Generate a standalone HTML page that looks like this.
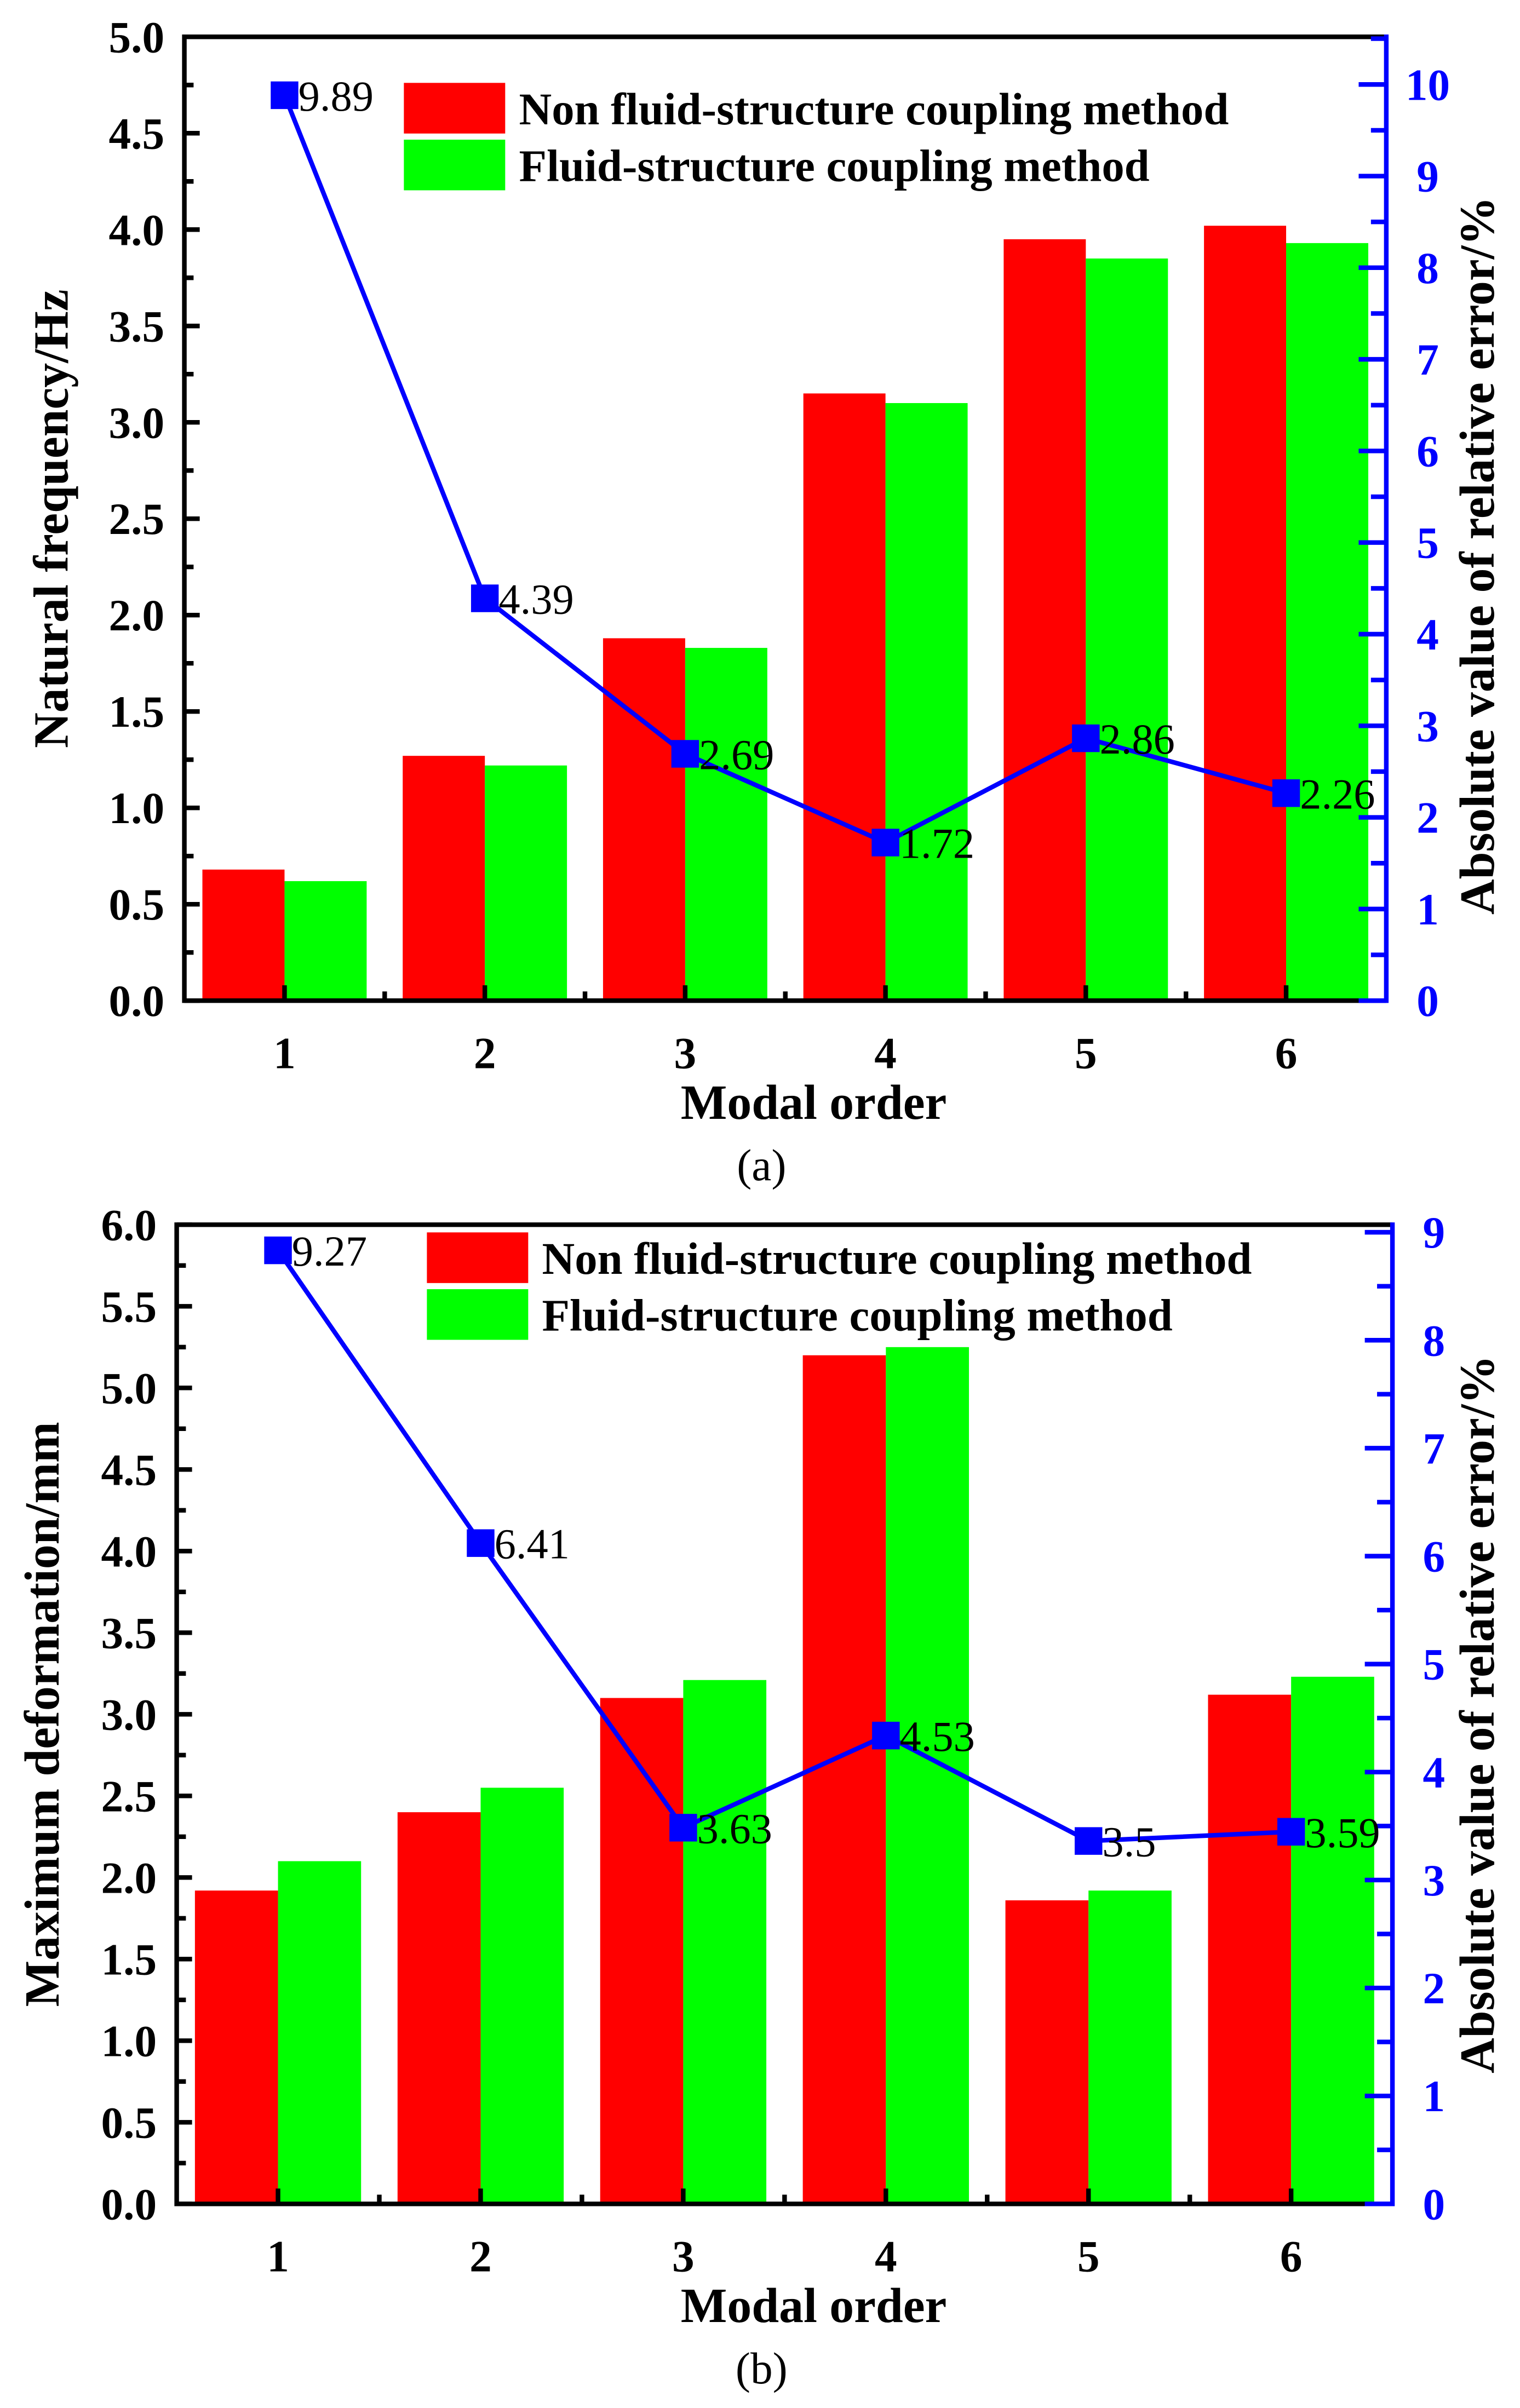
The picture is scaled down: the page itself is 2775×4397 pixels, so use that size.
<!DOCTYPE html>
<html><head><meta charset="utf-8">
<style>
html,body{margin:0;padding:0;background:#fff;}
svg{display:block;}
text{font-family:"Liberation Serif","DejaVu Serif",serif;}
</style></head>
<body>
<svg id="fig" width="2775" height="4397" viewBox="0 0 990 1569" xmlns="http://www.w3.org/2000/svg"></svg>
<script>
const categories = ["1","2","3","4","5","6"];
const aNonFsi = [0.68, 1.27, 1.88, 3.15, 3.95, 4.02];
const aFsi = [0.62, 1.22, 1.83, 3.10, 3.85, 3.93];
const aErr = [9.89, 4.39, 2.69, 1.72, 2.86, 2.26];
const aErrLabels = ["9.89","4.39","2.69","1.72","2.86","2.26"];
const aLeftTicks = ["0.0","0.5","1.0","1.5","2.0","2.5","3.0","3.5","4.0","4.5","5.0"];
const aRightTicks = ["0","1","2","3","4","5","6","7","8","9","10"];
const bNonFsi = [1.92, 2.40, 3.10, 5.20, 1.86, 3.12];
const bFsi = [2.10, 2.55, 3.21, 5.25, 1.92, 3.23];
const bErr = [9.27, 6.41, 3.63, 4.53, 3.5, 3.59];
const bErrLabels = ["9.27","6.41","3.63","4.53","3.5","3.59"];
const bLeftTicks = ["0.0","0.5","1.0","1.5","2.0","2.5","3.0","3.5","4.0","4.5","5.0","5.5","6.0"];
const bRightTicks = ["0","1","2","3","4","5","6","7","8","9"];

const NS="http://www.w3.org/2000/svg";
const svg=document.getElementById('fig');
function mk(tag,attrs,parent,txt){const e=document.createElementNS(NS,tag);for(const k in attrs)e.setAttribute(k,attrs[k]);if(txt!==undefined)e.textContent=txt;(parent||svg).appendChild(e);return e;}

function chart(o){
  const g=mk('g',{});
  
  
  const L=o.left,R=o.right,T=o.top,B=o.bottom;
  const xs=v=>L+(v-0.5)/6*(R-L);
  const yl=v=>B-(v/o.lmax)*(B-T);
  const yr=v=>B-(v/o.rmax)*(B-T);
  const yline=v=>o.lineZero-v*o.lineUnit;
  const bw=(R-L)/6*0.41;
  for(let i=0;i<categories.length;i++){
    const cx=xs(i+1);
    const r=mk('rect',{x:cx-bw,y:yl(o.s1[i]),width:bw,height:B-yl(o.s1[i]),fill:'#ff0000'},g);
    
    
    const r2=mk('rect',{x:cx,y:yl(o.s2[i]),width:bw,height:B-yl(o.s2[i]),fill:'#00ff00'},g);
    
    
  }
  mk('line',{x1:L,y1:T,x2:R,y2:T,stroke:'#000','stroke-width':3},g);
  mk('line',{x1:L,y1:T-1.5,x2:L,y2:B+1.5,stroke:'#000','stroke-width':3},g);
  mk('line',{x1:L,y1:B,x2:R-12,y2:B,stroke:'#000','stroke-width':3},g);
  mk('line',{x1:R-12,y1:B,x2:R,y2:B,stroke:'#0000ff','stroke-width':3},g);
  mk('line',{x1:R,y1:T-1.5,x2:R,y2:B+1.5,stroke:'#0000ff','stroke-width':3},g);
  o.lticks.forEach((t,i)=>{
    const v=i*0.5,y=yl(v);
    mk('line',{x1:L,y1:y,x2:L+10,y2:y,stroke:'#000','stroke-width':3},g);
    if(i<o.lticks.length-1){const ym=yl(v+0.25);mk('line',{x1:L,y1:ym,x2:L+6,y2:ym,stroke:'#000','stroke-width':3},g);}
    const tx=mk('text',{x:L-13,y:y+10,'font-size':29,'font-weight':'bold','text-anchor':'end'},g,t);
    
    
  });
  o.rticks.forEach((t,i)=>{
    const y=yr(i);
    mk('line',{x1:R,y1:y,x2:R-18,y2:y,stroke:'#0000ff','stroke-width':3},g);
    if(i+0.5<=o.rmax){const ym=yr(i+0.5);mk('line',{x1:R,y1:ym,x2:R-10,y2:ym,stroke:'#0000ff','stroke-width':3},g);}
    const tx=mk('text',{x:R+27,y:y+10,'font-size':29,'font-weight':'bold','text-anchor':'middle',fill:'#0000ff'},g,t);
    
    
  });
  categories.forEach((c,i)=>{
    const x=xs(i+1);
    mk('line',{x1:x,y1:B,x2:x,y2:B-10,stroke:'#000','stroke-width':3},g);
    if(i<5){const xm=xs(i+1.5);mk('line',{x1:xm,y1:B,x2:xm,y2:B-6,stroke:'#000','stroke-width':3},g);}
    const tx=mk('text',{x:x,y:B+44,'font-size':29,'font-weight':'bold','text-anchor':'middle'},g,c);
    
    
  });
  const pts=o.err.map((v,i)=>xs(i+1)+','+yline(v)).join(' ');
  const pl=mk('polyline',{points:pts,fill:'none',stroke:'#0000ff','stroke-width':3},g);
  
  
  o.err.forEach((v,i)=>{
    const x=xs(i+1),y=yline(v);
    const m=mk('rect',{x:x-9,y:y-9,width:18,height:18,fill:'#0000ff'},g);
    
    
    const t=mk('text',{x:x+9,y:y+10,'font-size':28},g,o.errLabels[i]);
    
    
  });
  const lg=mk('g',{},g);
  
  
  mk('rect',{x:o.legX,y:o.legY,width:66,height:33,fill:'#ff0000'},lg);
  mk('rect',{x:o.legX,y:o.legY+37,width:66,height:33,fill:'#00ff00'},lg);
  mk('text',{x:o.legX+75,y:o.legY+27,'font-size':29.5,'font-weight':'bold'},lg,'Non fluid-structure coupling method');
  mk('text',{x:o.legX+75,y:o.legY+64,'font-size':29.5,'font-weight':'bold'},lg,'Fluid-structure coupling method');
  const lm=o.lMid, rm=o.rMid;
  const yt=mk('text',{x:o.ltX,y:lm,'font-size':32,'font-weight':'bold','text-anchor':'middle',transform:`rotate(-90 ${o.ltX} ${lm})`},g,o.ltitle);
  
  
  const rt=mk('text',{x:973,y:rm,'font-size':32,'font-weight':'bold','text-anchor':'middle',transform:`rotate(-90 973 ${rm})`},g,'Absolute value of relative error/%');
  
  
  const xt=mk('text',{x:530,y:B+77,'font-size':32,'font-weight':'bold','text-anchor':'middle'},g,'Modal order');
  
  
  const cap=mk('text',{x:496,y:B+117,'font-size':29,'text-anchor':'middle'},g,o.cap);
  
  
}
chart({name:'chart-a',left:120,right:903,top:24,bottom:652,lmax:5,rmax:10.52,lineZero:651.5,lineUnit:59.6,s1:aNonFsi,s2:aFsi,err:aErr,errLabels:aErrLabels,lticks:aLeftTicks,rticks:aRightTicks,legX:263,legY:54,ltX:44,lMid:338,rMid:362,ltitle:'Natural frequency/Hz',cap:'(a)'});
chart({name:'chart-b',left:115,right:907,top:798,bottom:1436,lmax:6,rmax:9.07,lineZero:1433,lineUnit:66.7,s1:bNonFsi,s2:bFsi,err:bErr,errLabels:bErrLabels,lticks:bLeftTicks,rticks:bRightTicks,legX:278,legY:803,ltX:38,lMid:1117,rMid:1117,ltitle:'Maximum deformation/mm',cap:'(b)'});
</script>
</body></html>
